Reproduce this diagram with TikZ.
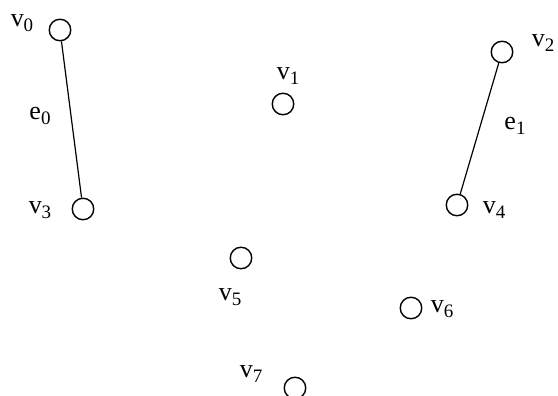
\documentclass[tikz,border=0pt]{standalone}
\usepackage{fontspec}
\setmainfont{Liberation Serif}
\newcommand{\vl}[2]{#1\raisebox{-0.22em}{\fontsize{19}{19}\selectfont #2}}
\tikzset{
  vert/.style={circle,draw,line width=1.4pt,minimum size=21.5pt,inner sep=0pt},
  lbl/.style={font=\fontsize{26}{26}\selectfont,inner sep=0pt},
  edge/.style={line width=1.2pt}
}
\begin{document}
\begin{tikzpicture}[x=1pt,y=-1pt]
\useasboundingbox (0,0) rectangle (558,396);
\node[vert] (v0) at (60,30) {};
\node[vert] (v1) at (283,104) {};
\node[vert] (v2) at (502,52) {};
\node[vert] (v3) at (83,209) {};
\node[vert] (v4) at (457,205) {};
\node[vert] (v5) at (241,258) {};
\node[vert] (v6) at (411,308) {};
\node[vert] (v7) at (295,388) {};
\node[lbl] (l0) at (22,23) {\vl{v}{0}};
\node[lbl] (l1) at (288,76) {\vl{v}{1}};
\node[lbl] (l2) at (543,43) {\vl{v}{2}};
\node[lbl] (l3) at (40,210) {\vl{v}{3}};
\node[lbl] (l4) at (494,210) {\vl{v}{4}};
\node[lbl] (l5) at (230,297) {\vl{v}{5}};
\node[lbl] (l6) at (442,309) {\vl{v}{6}};
\node[lbl] (l7) at (251,374) {\vl{v}{7}};
\node[lbl] (le0) at (40,116) {\vl{e}{0}};
\node[lbl] (le1) at (515,126) {\vl{e}{1}};
\draw[edge] (v0) -- (v3);
\draw[edge] (v2) -- (v4);
\end{tikzpicture}
\end{document}
